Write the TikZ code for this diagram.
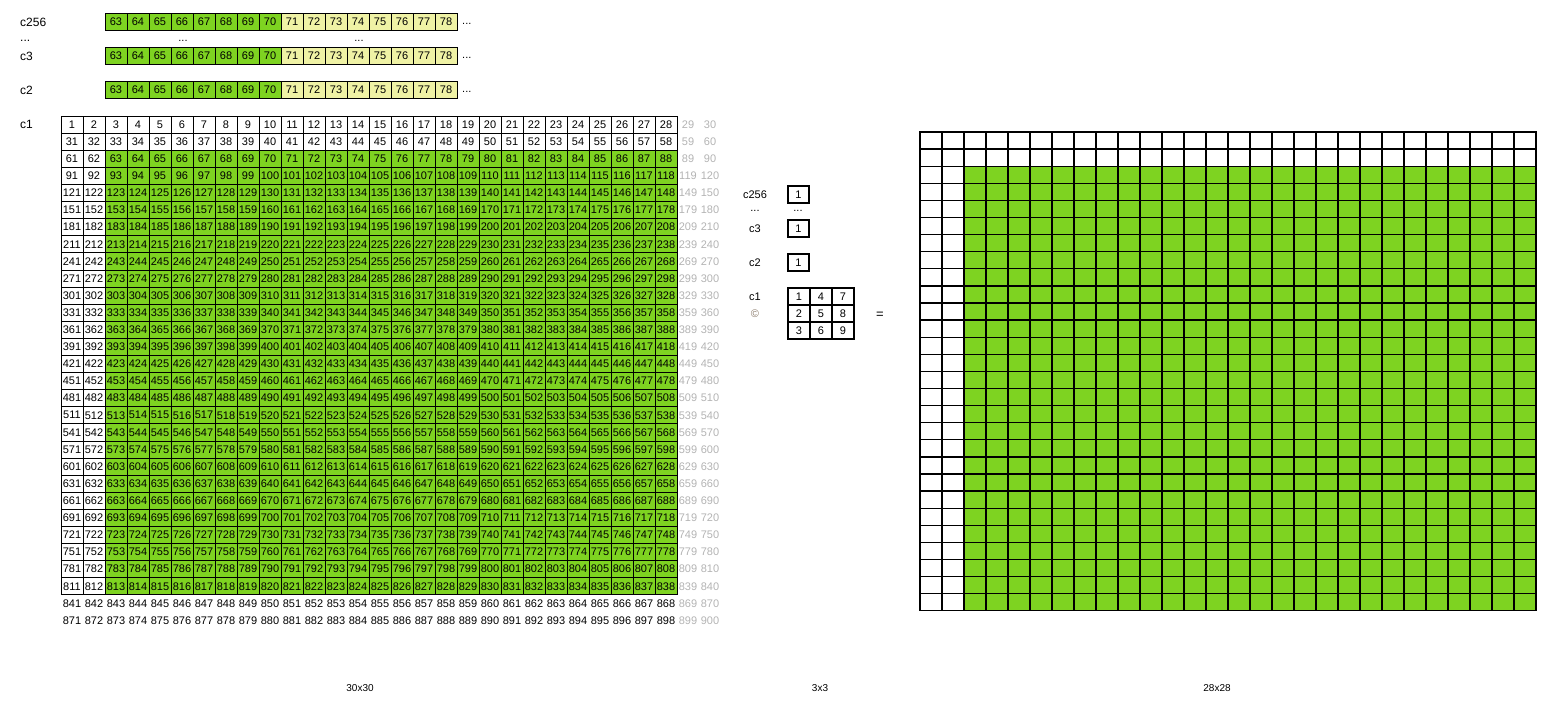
\documentclass[tikz,border=0pt]{standalone}
\usepackage{fontspec}
\setmainfont{Liberation Sans}
\usetikzlibrary{positioning}
\definecolor{clrGreen}{HTML}{7ED321}
\definecolor{clrPale}{HTML}{EFF2A5}
\definecolor{clrFaint}{HTML}{B3B3B3}
\definecolor{clrMark}{HTML}{8A7A6A}

\begin{document}
\begin{tikzpicture}[x=1pt, y=-1pt,
    num/.style={inner sep=0pt, font=\fontsize{11}{13}\selectfont, text=black},
    cell/.style={num, rectangle, draw=black, line width=0.8pt, minimum width=22pt, minimum height=17.1pt},
    hot/.style={cell, fill=clrGreen},
    pale/.style={cell, fill=clrPale},
    bare/.style={num},
    faint/.style={num, text=clrFaint},
    kern/.style={cell, line width=1.2pt, minimum width=21pt, minimum height=17pt},
    tile/.style={rectangle, draw=black, line width=1.3pt, minimum width=22pt, minimum height=17.1pt, inner sep=0pt},
    hottile/.style={tile, fill=clrGreen},
    lbl/.style={font=\fontsize{12}{14}\selectfont, inner sep=0pt},
    captxt/.style={font=\fontsize{10}{12}\selectfont, inner sep=0pt},
    pick/.code 2 args={%
      \ifnum#2>28\relax \pgfkeysalso{faint}%
      \else\ifnum#1>28\relax \pgfkeysalso{bare}%
      \else\ifnum#1>2\relax \ifnum#2>2\relax \pgfkeysalso{hot}\else\pgfkeysalso{cell}\fi
      \else\pgfkeysalso{cell}\fi\fi\fi},
    picktile/.code 2 args={%
      \ifnum#1>2\relax \ifnum#2>2\relax \pgfkeysalso{hottile}\else\pgfkeysalso{tile}\fi
      \else\pgfkeysalso{tile}\fi},
]
\useasboundingbox (0,0) rectangle (1553,710);

% === Channel strips ===
\foreach \row/\top in {c256/13, c3/47, c2/81} {
  \node[lbl, anchor=west] (name-\row) at (20, \top+9) {\row};
  \foreach \k [count=\i] in {63,...,78} {
    \pgfmathtruncatemacro{\hot}{\k<71}
    \ifnum\hot=1 \def\sty{hot}\else\def\sty{pale}\fi
    \node[style=\sty] (s-\row-\i) at (105+22*\i-11, \top+8.5) {\k};
  }
  \node[num, anchor=west] (more-\row) at (462, \top+11) {...};
}
\node[lbl, anchor=west] (dots-l) at (20, 41) {...};
\node[num] (dots-a) at (183, 41) {...};
\node[num] (dots-b) at (359, 41) {...};
\node[lbl, anchor=west] (name-c1) at (20, 124) {c1};

% === 30x30 input ===
\foreach \r in {1,...,30} {
  \foreach \c in {1,...,30} {
    \pgfmathtruncatemacro{\n}{30*(\r-1)+\c}
    \node[pick={\r}{\c}] (a-\r-\c) at (61+22*\c-11, 116+17.1*\r-8.55) {\n};
  }
}

% === Kernels ===
\foreach \row/\top in {c256/186, c3/220, c2/254} {
  \node[num] (k-name-\row) at (755, \top+9) {\row};
  \node[kern] (k-\row) at (798.5, \top+8.5) {1};
}
\node[num] (k-dots-l) at (755, 211) {...};
\node[num] (k-dots-r) at (798, 211) {...};
\node[num] (k-name-c1) at (755, 297) {c1};
\node[num, text=clrMark] (k-mark) at (755, 314) {©};
\foreach \r in {1,2,3} {
  \foreach \c in {1,2,3} {
    \pgfmathtruncatemacro{\n}{3*(\c-1)+\r}
    \node[kern, minimum width=22pt] (m-\r-\c) at (788+22*\c-11, 288+17*\r-8.5) {\n};
  }
}
\node[num, font=\fontsize{13}{15}\selectfont] (eq) at (880, 315) {=};

% === 28x28 output ===
\foreach \r in {1,...,28} {
  \foreach \c in {1,...,28} {
    \node[picktile={\r}{\c}] (o-\r-\c) at (920+22*\c-11, 132+17.1*\r-8.55) {};
  }
}

% === Captions ===
\node[captxt] (cap-in) at (360, 688) {30x30};
\node[captxt] (cap-k) at (820, 688) {3x3};
\node[captxt] (cap-out) at (1217, 688) {28x28};

\end{tikzpicture}
\end{document}
